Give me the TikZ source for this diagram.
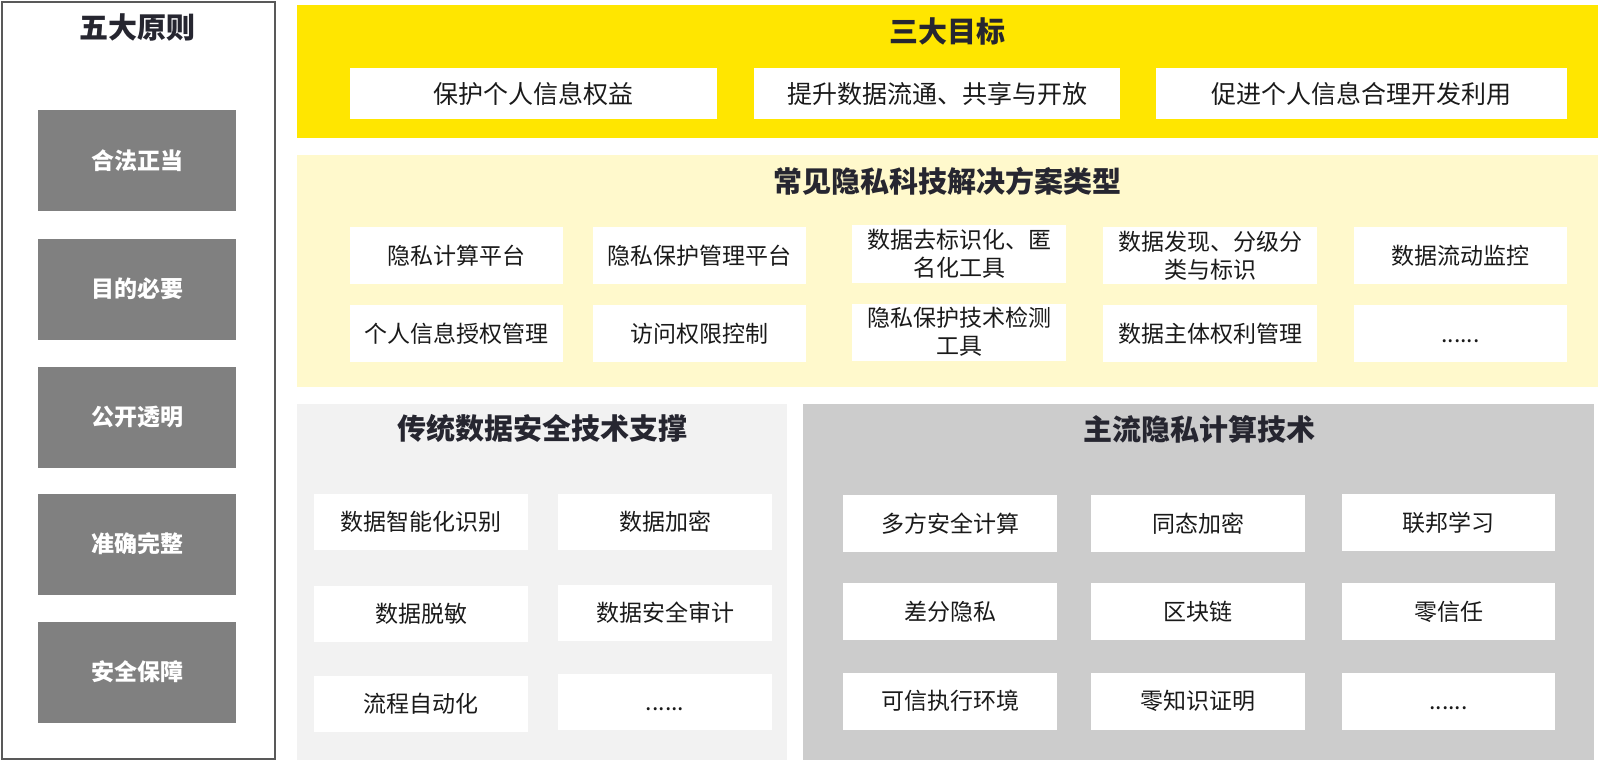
\documentclass[tikz,border=0pt]{standalone}
\usepackage{fontspec}
\setmainfont{Noto Sans CJK SC}
\definecolor{bordergray}{HTML}{595959}
\definecolor{prgray}{HTML}{808080}
\definecolor{goalyellow}{HTML}{FFE600}
\definecolor{paleyellow}{HTML}{FFF9CC}
\definecolor{lightpanel}{HTML}{F2F2F2}
\definecolor{darkpanel}{HTML}{CCCCCC}
\definecolor{txt}{HTML}{1A1A1A}
\definecolor{ttl}{HTML}{262630}
\newcommand{\mydots}{\vphantom{数}......}
\begin{document}
\begin{tikzpicture}[x=1pt,y=-1pt,
  box/.style={rectangle, inner sep=0pt, outer sep=0pt, anchor=center},
  outerbox/.style={box, draw=bordergray, line width=2pt, fill=white},
  panelbox/.style={box},
  principle/.style={box, fill=prgray, text=white, font=\fontsize{23}{28}\selectfont\bfseries, minimum width=198pt, minimum height=101pt},
  goal/.style={box, fill=white, text=txt, font=\fontsize{25}{30}\selectfont, minimum height=51pt},
  item/.style={box, fill=white, text=txt, font=\fontsize{23}{28}\selectfont, minimum width=213pt, minimum height=57pt, align=center},
  ttlnode/.style={inner sep=0pt, text=ttl, font=\fontsize{29}{34}\selectfont\bfseries}
]
\useasboundingbox (0,0) rectangle (1598,762);

% left column: five principles
\node[outerbox, minimum width=273pt, minimum height=757pt] (left) at (138.5,380.5) {};
\node[ttlnode] (lefttitle) at (137,27) {五大原则};
\node[principle] (p1) at (137,161) {合法正当};
\node[principle] (p2) at (137,289) {目的必要};
\node[principle] (p3) at (137,417) {公开透明};
\node[principle] (p4) at (137,544) {准确完整};
\node[principle] (p5) at (137,672) {安全保障};

% three goals
\node[panelbox, fill=goalyellow, minimum width=1301pt, minimum height=133pt] (goals) at (947.5,71.5) {};
\node[ttlnode] (goalstitle) at (947,31) {三大目标};
\node[goal, minimum width=367pt] (g1) at (533.5,93.5) {保护个人信息权益};
\node[goal, minimum width=366pt] (g2) at (937,93.5) {提升数据流通、共享与开放};
\node[goal, minimum width=411pt] (g3) at (1361.5,93.5) {促进个人信息合理开发利用};

% solution types
\node[panelbox, fill=paleyellow, minimum width=1301pt, minimum height=232pt] (sol) at (947.5,271) {};
\node[ttlnode] (soltitle) at (947,181) {常见隐私科技解决方案类型};
\node[item] (s11) at (456,255.5) {隐私计算平台};
\node[item] (s12) at (699.5,255.5) {隐私保护管理平台};
\node[item, minimum width=214pt] (s13) at (959,254) {数据去标识化、匿\\名化工具};
\node[item, minimum width=214pt] (s14) at (1210,255.5) {数据发现、分级分\\类与标识};
\node[item] (s15) at (1460.5,255.5) {数据流动监控};
\node[item] (s21) at (456,333.5) {个人信息授权管理};
\node[item] (s22) at (699.5,333.5) {访问权限控制};
\node[item, minimum width=214pt] (s23) at (959,332) {隐私保护技术检测\\工具};
\node[item, minimum width=214pt] (s24) at (1210,333.5) {数据主体权利管理};
\node[item] (s25) at (1460.5,333.5) {\mydots};

% traditional data security
\node[panelbox, fill=lightpanel, minimum width=490pt, minimum height=356pt] (trad) at (542,582) {};
\node[ttlnode] (tradtitle) at (542,428.5) {传统数据安全技术支撑};
\node[item, minimum width=214pt, minimum height=56pt] (t11) at (421,522) {数据智能化识别};
\node[item, minimum width=214pt, minimum height=56pt] (t12) at (665,522) {数据加密};
\node[item, minimum width=214pt, minimum height=56pt] (t21) at (421,613.5) {数据脱敏};
\node[item, minimum width=214pt, minimum height=56pt] (t22) at (665,612.5) {数据安全审计};
\node[item, minimum width=214pt, minimum height=56pt] (t31) at (421,703.5) {流程自动化};
\node[item, minimum width=214pt, minimum height=56pt] (t32) at (665,701.5) {\mydots};

% mainstream privacy computing
\node[panelbox, fill=darkpanel, minimum width=791pt, minimum height=356pt] (main) at (1198.5,582) {};
\node[ttlnode] (maintitle) at (1199,429) {主流隐私计算技术};
\node[item, minimum width=214pt] (m11) at (950,523.5) {多方安全计算};
\node[item, minimum width=214pt] (m12) at (1198,523.5) {同态加密};
\node[item] (m13) at (1448.5,522.5) {联邦学习};
\node[item, minimum width=214pt] (m21) at (950,611.5) {差分隐私};
\node[item, minimum width=214pt] (m22) at (1198,611.5) {区块链};
\node[item] (m23) at (1448.5,611.5) {零信任};
\node[item, minimum width=214pt] (m31) at (950,701) {可信执行环境};
\node[item, minimum width=214pt] (m32) at (1198,701) {零知识证明};
\node[item] (m33) at (1448.5,701) {\mydots};
\end{tikzpicture}
\end{document}
